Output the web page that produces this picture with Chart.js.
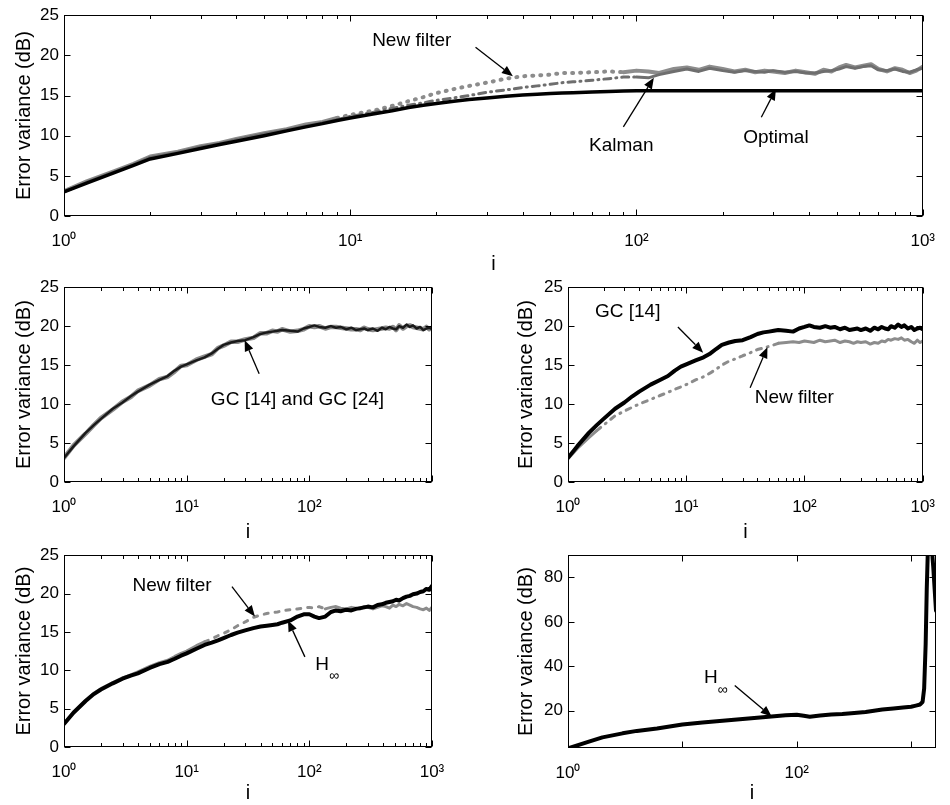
<!DOCTYPE html>
<html>
<head>
<meta charset="utf-8">
<script src="https://cdn.jsdelivr.net/npm/chart.js@4.4.0/dist/chart.umd.min.js"></script>
<style>
  html, body { margin: 0; padding: 0; background: #fff; overflow: hidden; width: 950px; height: 805px; }
  canvas { position: absolute; }
</style>
</head>
<body>
<canvas id="cTop"></canvas>
<canvas id="cMidL"></canvas>
<canvas id="cMidR"></canvas>
<canvas id="cBotL"></canvas>
<canvas id="cBotR"></canvas>
<script>
const iVals = [1, 1.2, 1.5, 1.75, 2, 2.5, 3, 3.5, 4, 5,
  6, 7, 8, 9, 10, 12, 14, 16, 18, 20,
  23, 26, 30, 35, 40, 45, 50, 55, 60, 70,
  80, 90, 100, 110, 120, 135, 150, 165, 180, 200,
  220, 240, 260, 280, 300, 330, 360, 390, 420, 450,
  480, 510, 540, 580, 620, 660, 700, 750, 800, 850,
  900, 950, 1000]

// top panel
const topOptimal = [3.0, 4.1, 5.4, 6.3, 7.1, 7.8, 8.4, 8.9, 9.3, 10.0,
  10.6, 11.1, 11.5, 11.9, 12.2, 12.7, 13.1, 13.5, 13.8, 14.0,
  14.3, 14.5, 14.7, 14.9, 15.05, 15.15, 15.25, 15.3, 15.35, 15.45,
  15.5, 15.55, 15.6, 15.6, 15.6, 15.6, 15.6, 15.6, 15.6, 15.6,
  15.6, 15.6, 15.6, 15.6, 15.6, 15.6, 15.6, 15.6, 15.6, 15.6,
  15.6, 15.6, 15.6, 15.6, 15.6, 15.6, 15.6, 15.6, 15.6, 15.6,
  15.6, 15.6, 15.6]
const topKalman = [3.0, 4.2, 5.5, 6.4, 7.3, 7.9, 8.6, 9.0, 9.5, 10.2,
  10.7, 11.2, 11.6, 12.0, 12.4, 12.9, 13.4, 13.8, 14.1, 14.4,
  14.7, 15.0, 15.4, 15.7, 16.0, 16.2, 16.4, 16.6, 16.7, 16.9,
  17.1, 17.3, 17.3, 17.2, 17.6, 18.0, 18.3, 18.0, 18.4, 18.1,
  17.9, 18.1, 18.0, 17.9, 18.1, 17.9, 18.0, 17.8, 17.8, 18.0,
  18.1, 18.3, 18.6, 18.4, 18.6, 18.7, 18.2, 18.1, 18.3, 18.0,
  17.9, 18.2, 18.4]
const topNewFilter = [3.1, 4.3, 5.6, 6.5, 7.4, 8.0, 8.7, 9.1, 9.6, 10.3,
  10.8, 11.4, 11.7, 12.2, 12.6, 13.1, 13.7, 14.3, 14.8, 15.3,
  15.8, 16.2, 16.6, 17.1, 17.4, 17.5, 17.6, 17.8, 17.8, 17.9,
  18.0, 17.9, 18.1, 18.0, 17.8, 18.3, 18.5, 18.2, 18.6, 18.3,
  18.0, 18.2, 17.9, 18.1, 18.0, 17.8, 18.1, 17.9, 17.7, 18.2,
  18.0, 18.5, 18.8, 18.5, 18.7, 18.9, 18.3, 18.0, 18.4, 18.2,
  17.8, 18.1, 18.6]

// middle panels
const gc14 = [3.1, 4.6, 6.3, 7.3, 8.1, 9.4, 10.2, 11.0, 11.6, 12.5,
  13.1, 13.6, 14.3, 14.8, 15.1, 15.6, 16.0, 16.5, 17.1, 17.6,
  17.9, 18.1, 18.2, 18.6, 19.0, 19.2, 19.3, 19.4, 19.5, 19.4,
  19.3, 19.7, 19.9, 20.1, 19.9, 19.8, 20.0, 19.8, 19.9, 19.6,
  19.8, 19.5, 19.6, 19.7, 19.5, 19.7, 19.4, 19.8, 19.6, 19.9,
  19.7, 19.6, 20.0, 19.8, 20.2, 19.9, 20.1, 19.7, 19.9, 19.5,
  19.7, 19.8, 19.6]
const gc24 = [3.1, 4.7, 6.2, 7.3, 8.2, 9.3, 10.3, 10.9, 11.7, 12.4,
  13.2, 13.5, 14.2, 14.9, 15.0, 15.7, 16.1, 16.4, 17.2, 17.5,
  18.0, 18.0, 18.3, 18.5, 19.1, 19.1, 19.4, 19.3, 19.6, 19.3,
  19.4, 19.6, 20.0, 19.9, 20.0, 19.7, 19.9, 19.9, 19.8, 19.7,
  19.6, 19.6, 19.5, 19.8, 19.6, 19.5, 19.6, 19.7, 19.8, 19.7,
  19.9, 19.5, 20.1, 19.7, 20.0, 20.1, 19.9, 19.8, 19.7, 19.6,
  19.9, 19.6, 19.8]
const midNewFilter = [3.0, 4.3, 5.7, 6.6, 7.3, 8.5, 9.1, 9.6, 10.0, 10.6,
  11.1, 11.5, 11.9, 12.2, 12.5, 13.1, 13.5, 14.0, 14.5, 15.0,
  15.5, 15.8, 16.2, 16.6, 17.0, 17.2, 17.4, 17.6, 17.8, 17.9,
  18.0, 17.9, 18.1, 18.0, 17.9, 18.2, 18.0, 18.1, 18.2, 17.9,
  18.1, 18.0, 17.8, 18.0, 17.9, 18.0, 17.7, 17.9, 17.8, 18.1,
  18.0, 18.3, 18.2, 18.4, 18.3, 18.5, 18.2, 18.3, 18.0, 17.8,
  18.2, 17.9, 18.1]

// bottom-left panel
const botHinf = [3.0, 4.5, 6.0, 6.9, 7.5, 8.3, 8.9, 9.3, 9.6, 10.3,
  10.8, 11.1, 11.5, 11.9, 12.2, 12.8, 13.3, 13.6, 13.9, 14.2,
  14.6, 14.9, 15.2, 15.5, 15.7, 15.8, 15.9, 16.0, 16.2, 16.5,
  17.0, 17.3, 17.3, 17.0, 16.8, 17.0, 17.6, 17.8, 17.7, 17.9,
  17.8, 18.0, 18.1, 18.2, 18.3, 18.2, 18.5, 18.6, 18.8, 18.9,
  19.0, 19.2, 19.1, 19.4, 19.6, 19.7, 19.9, 20.0, 20.2, 20.3,
  20.6, 20.5, 21.0]
const botNewFilter = [3.1, 4.6, 6.1, 7.0, 7.6, 8.4, 9.0, 9.4, 9.8, 10.5,
  11.0, 11.3, 11.8, 12.2, 12.5, 13.2, 13.7, 14.1, 14.5, 14.8,
  15.3, 15.8, 16.3, 16.9, 17.2, 17.4, 17.5, 17.6, 17.75, 17.9,
  18.0, 18.1, 18.2, 18.1, 18.3, 18.0, 18.2, 18.3, 18.1, 18.0,
  18.2, 18.1, 18.0, 18.3, 18.2, 18.0, 18.2, 18.4, 18.3, 18.1,
  18.5, 18.3, 18.6, 18.4, 18.7, 18.5, 18.3, 18.2, 18.0, 17.9,
  18.1, 17.8, 18.2]

// bottom-right panel: H-infinity run that diverges
const iDiverge = [1, 1.5, 2, 3, 4, 6, 10, 15, 20, 30,
  45, 60, 80, 100, 115, 130, 160, 200, 250, 300,
  400, 560, 700, 850, 1000, 1100, 1200, 1260, 1300, 1340,
  1370, 1400, 1450, 1500, 1560, 1650]
const hinfDiverge = [3.0, 6.0, 8.0, 9.8, 10.9, 12.0, 13.8, 14.7, 15.2, 16.0,
  16.8, 17.4, 17.9, 18.2, 17.7, 17.3, 17.8, 18.3, 18.5, 18.8,
  19.4, 20.5, 21.0, 21.4, 21.8, 22.3, 22.8, 24.0, 30, 50,
  75, 92, 100, 96, 85, 65]

const decadeTicks = [1, 10, 100, 1000]
const decadeLabels = ['10⁰', '10¹', '10²', '10³']
const yTicks25 = [0, 5, 10, 15, 20, 25]
const yTicksDiverge = [20, 40, 60, 80]

const FONT = "'Liberation Sans', Arial, sans-serif"
const pts = (xs, ys) => xs.map((x, k) => ({ x: x, y: ys[k] }))
const between = (lo, hi, dash) => c => (c.p0.parsed.x >= lo && c.p0.parsed.x < hi) ? dash : undefined

const arrow = (ctx, x0, y0, x1, y1) => {
    const a = Math.atan2(y1 - y0, x1 - x0), L = 11, W = 4.5
    const bx = x1 - L * Math.cos(a), by = y1 - L * Math.sin(a)
    ctx.lineWidth = 1.3
    ctx.beginPath(); ctx.moveTo(x0, y0); ctx.lineTo(bx, by); ctx.stroke()
    ctx.beginPath()
    ctx.moveTo(x1, y1)
    ctx.lineTo(bx - W * Math.sin(a), by + W * Math.cos(a))
    ctx.lineTo(bx + W * Math.sin(a), by - W * Math.cos(a))
    ctx.closePath(); ctx.fill()
}

// box, inward tick marks and the text/arrow labels
const frame = {
    id: 'frame',
    afterDatasetsDraw(chart, args, opts) {
        const { ctx, chartArea: a } = chart
        const x = chart.scales.x, y = chart.scales.y
        const L = Math.round(a.left) + 0.5, R = Math.round(a.right) - 0.5
        const T = Math.round(a.top) + 0.5, B = Math.round(a.bottom) - 0.5
        ctx.save()
        ctx.strokeStyle = '#000'; ctx.fillStyle = '#000'; ctx.lineWidth = 1
        ctx.strokeRect(L, T, R - L, B - T)
        ctx.beginPath()
        for (let d = 1; d <= x.max; d *= 10) {
            for (let k = 1; k < 10; k++) {
                const v = k * d
                if (v < x.min || v > x.max) continue
                if (k > 1 && !opts.minor) continue
                const px = Math.round(x.getPixelForValue(v)) + 0.5
                const len = k === 1 ? 6 : 3.5
                ctx.moveTo(px, B); ctx.lineTo(px, B - len)
                ctx.moveTo(px, T); ctx.lineTo(px, T + len)
            }
        }
        y.ticks.forEach(t => {
            const py = Math.round(y.getPixelForValue(t.value)) + 0.5
            ctx.moveTo(L, py); ctx.lineTo(L + 6, py)
            ctx.moveTo(R, py); ctx.lineTo(R - 6, py)
        })
        ctx.stroke()

        ctx.textBaseline = 'middle'
        for (const n of opts.notes || []) {
            const tx = x.getPixelForValue(n.at[0]), ty = y.getPixelForValue(n.at[1])
            ctx.font = '19px ' + FONT
            ctx.textAlign = 'center'
            ctx.fillText(n.text, tx, ty)
            if (n.sub) {
                const w = ctx.measureText(n.text).width
                ctx.font = '14px ' + FONT
                ctx.textAlign = 'left'
                ctx.fillText(n.sub, tx + w / 2, ty + 12)
            }
            arrow(ctx, x.getPixelForValue(n.from[0]), y.getPixelForValue(n.from[1]),
                x.getPixelForValue(n.to[0]), y.getPixelForValue(n.to[1]))
        }
        ctx.restore()
    }
}

function panel(id, box, plot, datasets, cfg) {
    const cv = document.getElementById(id)
    cv.style.left = box.left + 'px'
    cv.style.top = box.top + 'px'
    cv.width = box.width
    cv.height = box.height
    new Chart(cv, {
        type: 'line',
        data: { datasets: datasets },
        options: {
            responsive: false,
            animation: false,
            events: [],
            layout: { padding: { left: box.padLeft, top: plot.top - box.top, right: box.left + box.width - plot.right, bottom: 0 } },
            elements: { point: { radius: 0 }, line: { tension: 0, borderCapStyle: 'round', borderJoinStyle: 'round' } },
            plugins: {
                legend: { display: false },
                tooltip: { enabled: false },
                frame: { minor: cfg.minor, notes: cfg.notes }
            },
            scales: {
                x: {
                    type: 'logarithmic', min: 1, max: cfg.xMax,
                    grid: { display: false, drawTicks: false },
                    border: { display: false },
                    afterBuildTicks: s => { s.ticks = cfg.xLabelled.map(v => ({ value: v })) },
                    afterFit: s => { s.height = box.top + box.height - plot.bottom },
                    ticks: {
                        autoSkip: false, maxRotation: 0, padding: 15, color: '#000',
                        font: { family: FONT, size: 17 },
                        callback: v => decadeLabels[decadeTicks.indexOf(v)]
                    },
                    title: { display: true, text: 'i', color: '#000', font: { family: FONT, size: 20 }, padding: 0 }
                },
                y: {
                    min: cfg.yMin, max: cfg.yMax,
                    grid: { display: false, drawTicks: false },
                    border: { display: false },
                    afterBuildTicks: s => { s.ticks = cfg.yTicks.map(v => ({ value: v })) },
                    afterFit: s => { s.width = plot.left - box.left - box.padLeft },
                    ticks: { padding: 5, color: '#000', font: { family: FONT, size: 17 } },
                    title: { display: true, text: 'Error variance (dB)', color: '#000', font: { family: FONT, size: 20 }, padding: { top: 4, bottom: 4 } }
                }
            }
        },
        plugins: [frame]
    })
}

panel('cTop',
    { left: 0, top: 0, width: 950, height: 276, padLeft: 8 },
    { left: 64, top: 15, right: 936, bottom: 216 },
    [
        { label: 'Optimal', data: pts(iVals, topOptimal), borderColor: '#000', borderWidth: 3.5 },
        { label: 'Kalman', data: pts(iVals, topKalman), borderColor: '#6e6e6e', borderWidth: 3,
          segment: { borderDash: between(9, 100, [7, 5, 1, 5]) } },
        { label: 'New filter', data: pts(iVals, topNewFilter), borderColor: '#8c8c8c', borderWidth: 4,
          segment: { borderDash: between(9, 90, [1, 7]) } }
    ],
    {
        xMax: 1000, xLabelled: [1, 10, 100, 1000], yMin: 0, yMax: 25, yTicks: yTicks25, minor: true,
        notes: [
            { text: 'New filter', at: [16.4, 21.8], from: [27.4, 21.0], to: [37, 17.4] },
            { text: 'Kalman', at: [88.5, 8.7], from: [90, 11.1], to: [115, 17.2] },
            { text: 'Optimal', at: [307, 9.8], from: [273, 12.3], to: [307, 15.8] }
        ]
    })

panel('cMidL',
    { left: 0, top: 272, width: 470, height: 272, padLeft: 8 },
    { left: 64, top: 280, right: 432, bottom: 482 },
    [
        { label: 'GC [14]', data: pts(iVals, gc14), borderColor: '#1a1a1a', borderWidth: 2.5 },
        { label: 'GC [24]', data: pts(iVals, gc24), borderColor: '#8a8a8a', borderWidth: 4.5 }
    ],
    {
        xMax: 1000, xLabelled: [1, 10, 100], yMin: 0, yMax: 25, yTicks: yTicks25, minor: true,
        notes: [
            { text: 'GC [14] and GC [24]', at: [80, 10.5], from: [39, 13.9], to: [29.7, 18.2] }
        ]
    })

panel('cMidR',
    { left: 470, top: 272, width: 480, height: 272, padLeft: 40 },
    { left: 568, top: 281, right: 936, bottom: 482 },
    [
        { label: 'GC [14]', data: pts(iVals, gc14), borderColor: '#000', borderWidth: 4 },
        { label: 'New filter', data: pts(iVals, midNewFilter), borderColor: '#8c8c8c', borderWidth: 3,
          segment: { borderDash: between(1.7, 60, [5, 6, 1, 6]) } }
    ],
    {
        xMax: 1000, xLabelled: [1, 10, 100, 1000], yMin: 0, yMax: 25, yTicks: yTicks25, minor: true,
        notes: [
            { text: 'GC [14]', at: [3.2, 21.8], from: [8.5, 19.9], to: [13.9, 16.6] },
            { text: 'New filter', at: [82, 10.8], from: [34.7, 12.1], to: [48.6, 17.3] }
        ]
    })

panel('cBotL',
    { left: 0, top: 540, width: 470, height: 265, padLeft: 8 },
    { left: 64, top: 547, right: 432, bottom: 747 },
    [
        { label: 'H∞', data: pts(iVals, botHinf), borderColor: '#000', borderWidth: 4 },
        { label: 'New filter', data: pts(iVals, botNewFilter), borderColor: '#8c8c8c', borderWidth: 3,
          segment: { borderDash: between(14, 130, [4, 7]) } }
    ],
    {
        xMax: 1000, xLabelled: [1, 10, 100, 1000], yMin: 0, yMax: 25, yTicks: yTicks25, minor: true,
        notes: [
            { text: 'New filter', at: [7.6, 21], from: [23.4, 20.9], to: [36, 17.0] },
            { text: 'H', sub: '∞', at: [127, 10.75], from: [92, 11.75], to: [67, 16.5] }
        ]
    })

panel('cBotR',
    { left: 470, top: 540, width: 480, height: 265, padLeft: 40 },
    { left: 568, top: 547, right: 936, bottom: 748 },
    [
        { label: 'H∞', data: pts(iDiverge, hinfDiverge), borderColor: '#000', borderWidth: 4 }
    ],
    {
        xMax: 1650, xLabelled: [1, 100], yMin: 3.2, yMax: 90, yTicks: yTicksDiverge, minor: false,
        notes: [
            { text: 'H', sub: '∞', at: [17.7, 34.7], from: [28.7, 31.3], to: [60.4, 17.4] }
        ]
    })
</script>
</body>
</html>
